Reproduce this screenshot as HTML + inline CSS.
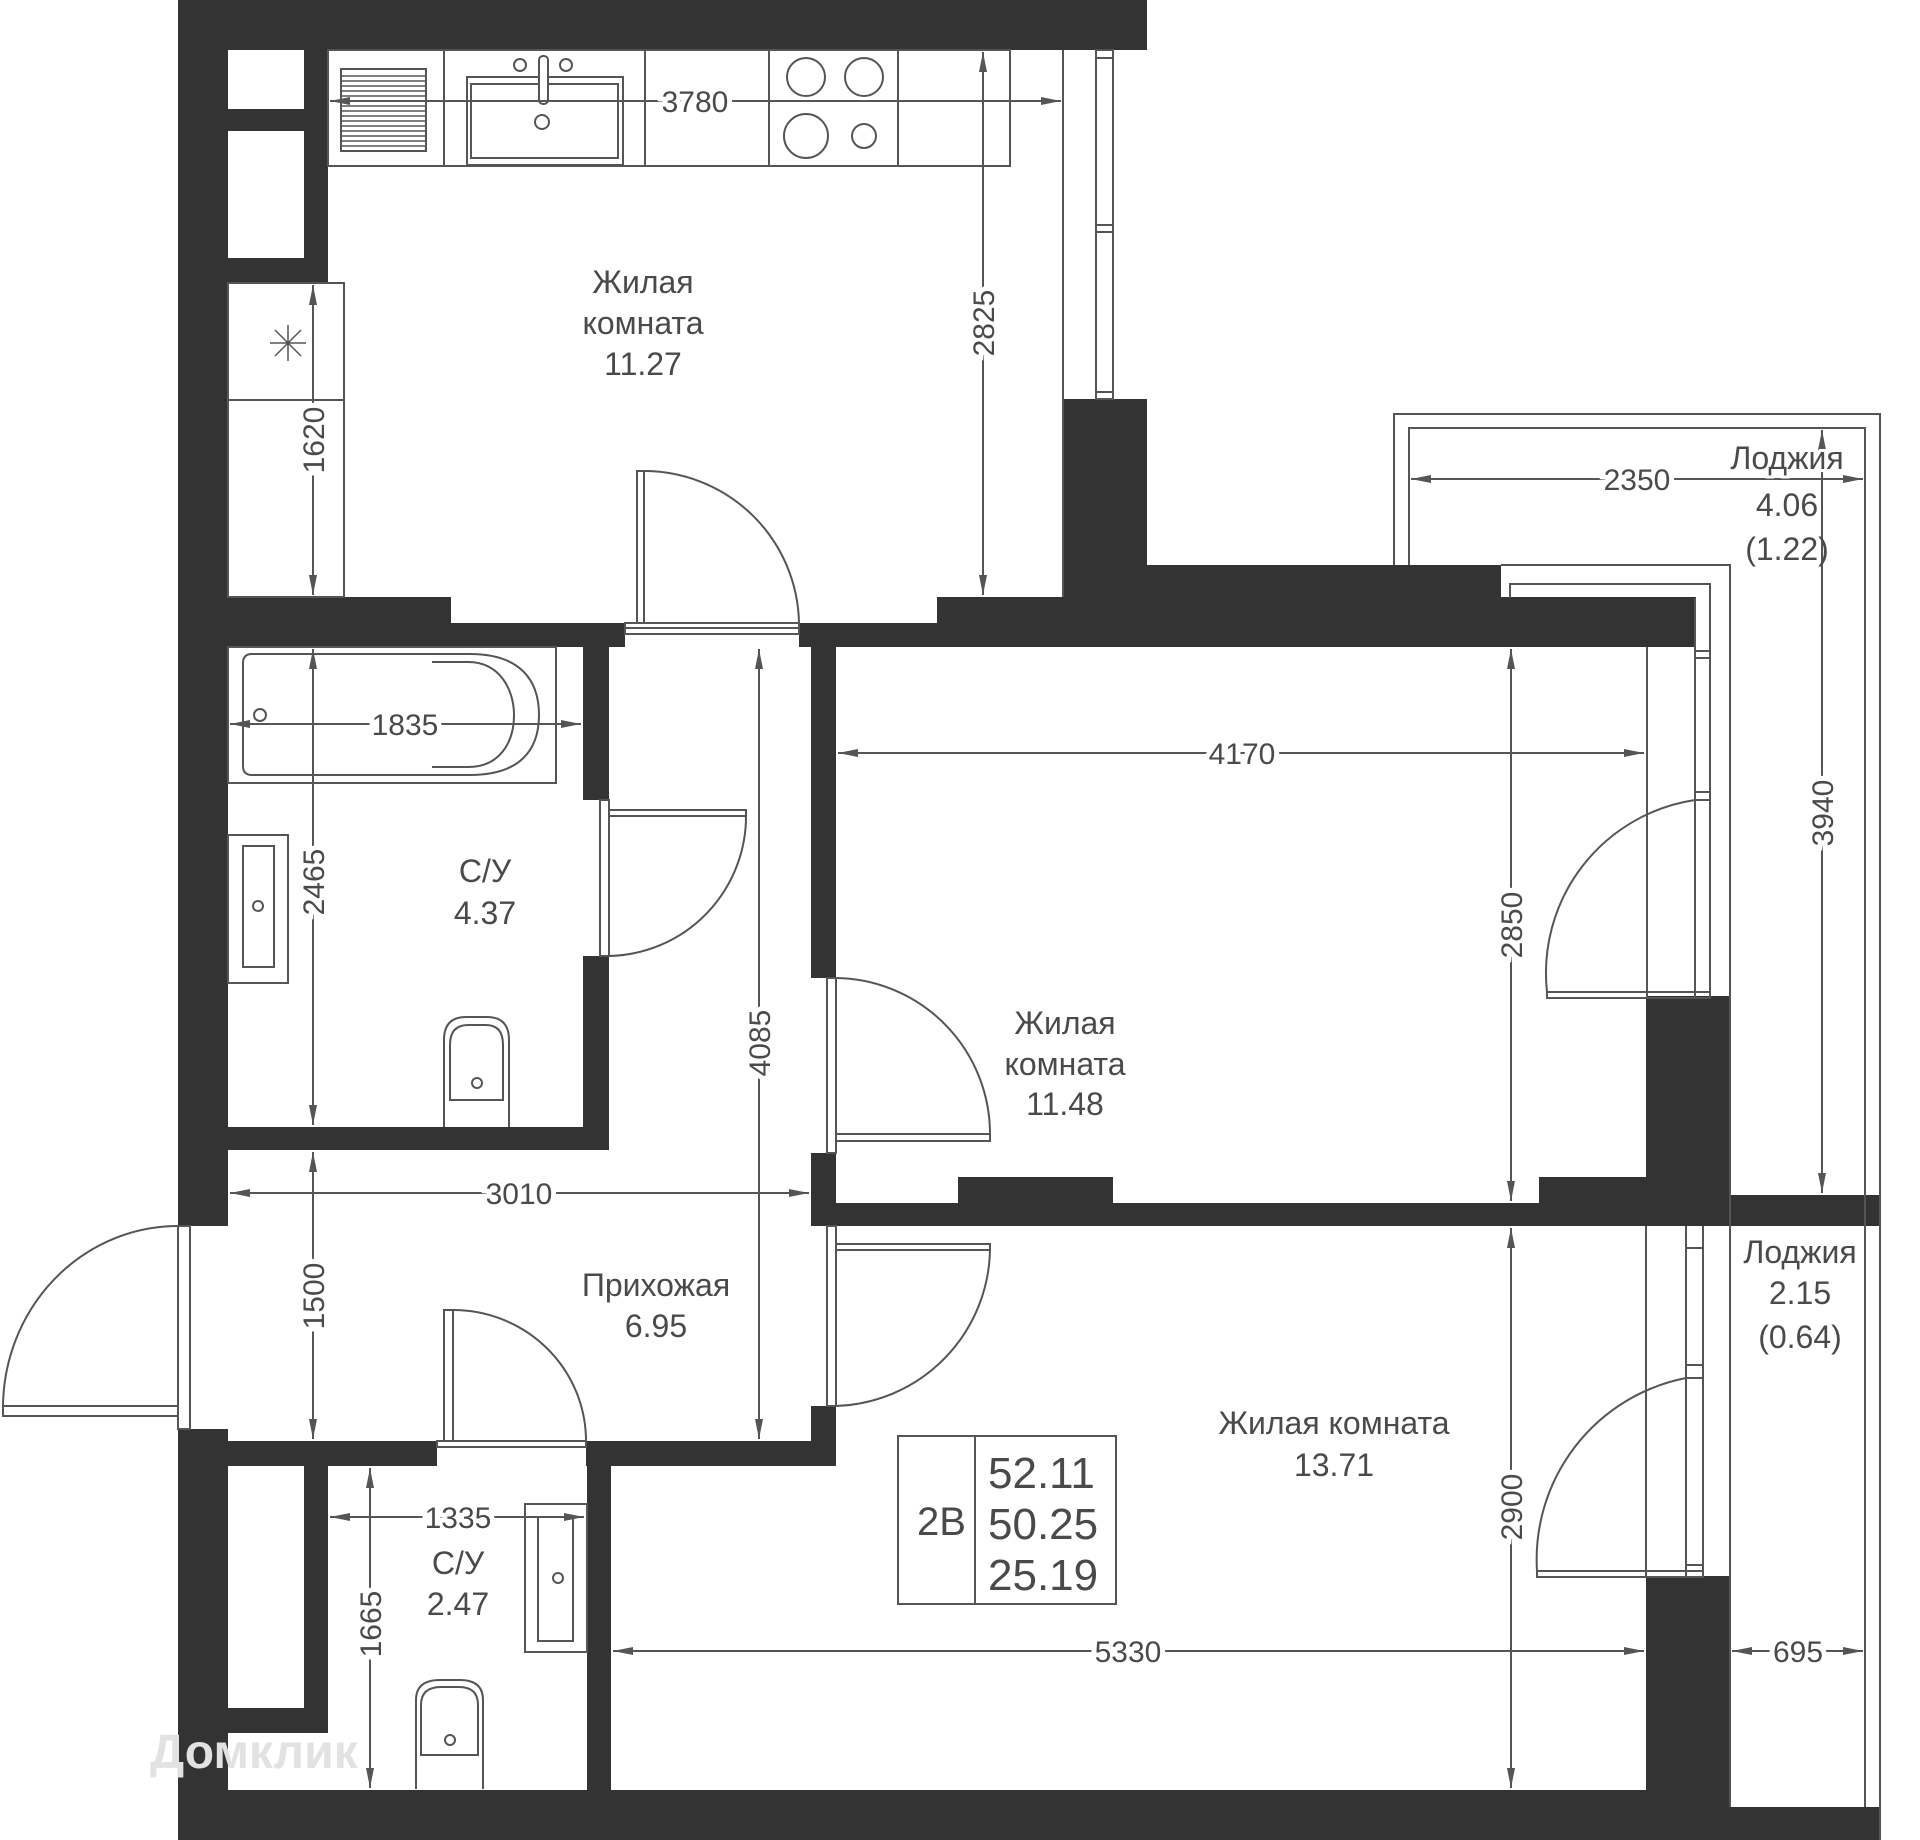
<!DOCTYPE html>
<html><head><meta charset="utf-8"><style>
html,body{margin:0;padding:0;background:#fff}
svg{display:block}
text{font-family:"Liberation Sans","DejaVu Sans",sans-serif;fill:#4a4a4a}
.l{font-size:32px;text-anchor:middle}
.d{font-size:30px;text-anchor:middle;paint-order:stroke;stroke:#fff;stroke-width:10px}
.w{fill:#333}
.ln{fill:none;stroke:#555;stroke-width:2}
.dm{stroke:#555;stroke-width:2;marker-start:url(#a);marker-end:url(#a)}
</style></head><body>
<svg width="1920" height="1840" viewBox="0 0 1920 1840" xmlns="http://www.w3.org/2000/svg">
<defs><marker id="a" viewBox="0 0 20 10" refX="20" refY="5" markerWidth="20" markerHeight="10" markerUnits="userSpaceOnUse" orient="auto-start-reverse"><path d="M0,1 L20,5 L0,9 z" fill="#555"/></marker></defs>

<g class="w">
<rect x="178" y="0" width="969" height="50"/>
<rect x="178" y="0" width="50" height="1226"/>
<rect x="178" y="1429" width="50" height="411"/>
<rect x="228" y="109" width="100" height="22"/>
<rect x="304" y="50" width="24" height="233"/>
<rect x="228" y="258" width="100" height="25"/>
<rect x="178" y="597" width="273" height="26"/>
<rect x="178" y="623" width="447" height="24"/>
<rect x="799" y="623" width="138" height="24"/>
<rect x="937" y="597" width="759" height="50"/>
<rect x="1063" y="399" width="84" height="198"/>
<rect x="1063" y="565" width="438" height="33"/>
<rect x="583" y="647" width="26" height="153"/>
<rect x="583" y="956" width="26" height="194"/>
<rect x="178" y="1127" width="431" height="23"/>
<rect x="811" y="647" width="25" height="331"/>
<rect x="811" y="1153" width="25" height="73"/>
<rect x="811" y="1406" width="25" height="60"/>
<rect x="811" y="1203" width="1069" height="23"/>
<rect x="958" y="1177" width="155" height="26"/>
<rect x="1539" y="1177" width="191" height="26"/>
<rect x="1646" y="996" width="84" height="207"/>
<rect x="1730" y="1195" width="150" height="31"/>
<rect x="178" y="1441" width="259" height="25"/>
<rect x="586" y="1441" width="250" height="25"/>
<rect x="587" y="1441" width="24" height="349"/>
<rect x="304" y="1466" width="24" height="267"/>
<rect x="228" y="1708" width="100" height="25"/>
<rect x="1646" y="1576" width="84" height="230"/>
<rect x="178" y="1790" width="1552" height="50"/>
<rect x="1730" y="1807" width="150" height="33"/>
</g>

<g class="ln">
<rect x="328" y="50" width="682" height="116"/>
<line x1="444" y1="50" x2="444" y2="166"/><line x1="645" y1="50" x2="645" y2="166"/>
<line x1="769" y1="50" x2="769" y2="166"/><line x1="898" y1="50" x2="898" y2="166"/>
<rect x="341" y="69" width="85" height="82"/>
<path d="M341,76 H426 M341,81 H426 M341,86 H426 M341,91 H426 M341,96 H426 M341,101 H426 M341,106 H426 M341,111 H426 M341,116 H426 M341,121 H426 M341,126 H426 M341,131 H426 M341,136 H426 M341,141 H426 M341,146 H426" stroke-width="1.5"/>
<rect x="467" y="77" width="156" height="88"/>
<rect x="471" y="84" width="147" height="74"/>
<circle cx="520" cy="65" r="6"/><circle cx="566" cy="65" r="6"/>
<rect x="539" y="56" width="9" height="48" rx="4" fill="#fff"/>
<circle cx="542" cy="122" r="7"/>
<circle cx="806" cy="77" r="19"/><circle cx="864" cy="77" r="19"/>
<circle cx="806" cy="136" r="22"/><circle cx="864" cy="136" r="12"/>
<rect x="228" y="283" width="116" height="314"/>
<line x1="228" y1="400" x2="344" y2="400"/>
<path d="M270,343 H306 M288,325 V361 M275,330 L301,356 M301,330 L275,356" stroke-width="1.5"/>
<line x1="1063" y1="50" x2="1063" y2="597"/>
<rect x="1096" y="50" width="17" height="349"/>
<line x1="1096" y1="225" x2="1113" y2="225"/><line x1="1096" y1="232" x2="1113" y2="232"/>
<line x1="1096" y1="58" x2="1113" y2="58"/><line x1="1096" y1="392" x2="1113" y2="392"/>
<rect x="637" y="471" width="7" height="152"/>
<path d="M644,471 A155,155 0 0 1 799,623"/>
<rect x="625" y="623" width="174" height="5"/><rect x="625" y="628" width="174" height="6"/>
<path d="M1394,565 V414 H1880 V1840"/>
<path d="M1409,565 V428 H1865 V1807"/>
<path d="M1501,565 H1730 V1807"/>
<path d="M1510,598 V584 H1710 V997"/>
<line x1="1695" y1="598" x2="1695" y2="997"/>
<line x1="1695" y1="651" x2="1710" y2="651"/><line x1="1695" y1="658" x2="1710" y2="658"/>
<line x1="1695" y1="792" x2="1710" y2="792"/><line x1="1695" y1="800" x2="1710" y2="800"/>
<line x1="1647" y1="647" x2="1647" y2="998"/>
<rect x="1547" y="992" width="163" height="6"/>
<path d="M1547,992 A175,175 0 0 1 1695,800"/>
<line x1="1646" y1="1226" x2="1646" y2="1576"/>
<line x1="1686" y1="1226" x2="1686" y2="1576"/><line x1="1703" y1="1226" x2="1703" y2="1576"/>
<line x1="1686" y1="1248" x2="1703" y2="1248"/><line x1="1686" y1="1365" x2="1703" y2="1365"/>
<line x1="1686" y1="1378" x2="1703" y2="1378"/><line x1="1686" y1="1565" x2="1703" y2="1565"/>
<rect x="1537" y="1571" width="166" height="6"/>
<path d="M1537,1571 A185,185 0 0 1 1686,1378"/>
<rect x="228" y="647" width="328" height="136"/>
<path d="M252,654 H470 C520,654 539,680 539,715 C539,750 520,775 470,775 H252 Q243,775 243,766 V663 Q243,654 252,654 Z"/>
<path d="M432,662 H468 C500,662 514,690 514,715 C514,742 500,767 468,767 H432"/>
<circle cx="260" cy="715" r="6"/>
<rect x="228" y="835" width="60" height="148"/>
<rect x="243" y="846" width="31" height="121"/>
<circle cx="258" cy="906" r="5"/>
<path d="M444,1127 V1040 Q444,1017 466,1017 H487 Q509,1017 509,1040 V1127"/>
<path d="M450,1100 V1045 Q450,1025 468,1025 H486 Q503,1025 503,1045 V1100 Z"/>
<circle cx="477" cy="1083" r="5"/>
<rect x="600" y="800" width="9" height="156"/>
<rect x="609" y="810" width="137" height="6"/>
<path d="M746,813 A140,140 0 0 1 609,956"/>
<rect x="827" y="978" width="9" height="175"/>
<rect x="836" y="1134" width="154" height="7"/>
<path d="M836,978 A156,156 0 0 1 990,1134"/>
<rect x="827" y="1226" width="9" height="180"/>
<rect x="836" y="1244" width="154" height="6"/>
<path d="M990,1247 A159,159 0 0 1 836,1406"/>
<rect x="178" y="1226" width="12" height="203"/>
<rect x="3" y="1406" width="175" height="10"/>
<path d="M3,1408 A175,182 0 0 1 178,1226"/>
<rect x="444" y="1310" width="9" height="131"/>
<path d="M453,1310 A133,131 0 0 1 586,1441"/>
<rect x="437" y="1441" width="149" height="6"/>
<rect x="525" y="1504" width="62" height="148"/>
<rect x="538" y="1517" width="35" height="124"/>
<circle cx="558" cy="1578" r="5"/>
<path d="M416,1789 V1700 Q416,1680 440,1680 H460 Q483,1680 483,1700 V1789"/>
<path d="M421,1755 V1705 Q421,1687 441,1687 H459 Q478,1687 478,1705 V1755 Z"/>
<circle cx="450" cy="1740" r="5"/>
<rect x="898" y="1436" width="218" height="168"/>
<line x1="975" y1="1436" x2="975" y2="1604"/>
</g>

<g>
<line class="dm" x1="330" y1="101" x2="1061" y2="101"/>
<line class="dm" x1="313" y1="285" x2="313" y2="595"/>
<line class="dm" x1="983" y1="52" x2="983" y2="595"/>
<line class="dm" x1="1411" y1="479" x2="1863" y2="479"/>
<line class="dm" x1="1822" y1="430" x2="1822" y2="1193"/>
<line class="dm" x1="230" y1="724" x2="581" y2="724"/>
<line class="dm" x1="313" y1="649" x2="313" y2="1125"/>
<line class="dm" x1="838" y1="753" x2="1644" y2="753"/>
<line class="dm" x1="1511" y1="649" x2="1511" y2="1201"/>
<line class="dm" x1="759" y1="649" x2="759" y2="1439"/>
<line class="dm" x1="230" y1="1193" x2="809" y2="1193"/>
<line class="dm" x1="313" y1="1152" x2="313" y2="1439"/>
<line class="dm" x1="330" y1="1517" x2="584" y2="1517"/>
<line class="dm" x1="370" y1="1468" x2="370" y2="1788"/>
<line class="dm" x1="613" y1="1651" x2="1644" y2="1651"/>
<line class="dm" x1="1511" y1="1228" x2="1511" y2="1788"/>
<line class="dm" x1="1732" y1="1651" x2="1863" y2="1651"/>
</g>
<g>
<text class="d" x="695" y="112">3780</text>
<text class="d" transform="translate(324,440) rotate(-90)">1620</text>
<text class="d" transform="translate(994,323) rotate(-90)">2825</text>
<text class="d" x="1637" y="490">2350</text>
<text class="d" transform="translate(1833,813) rotate(-90)">3940</text>
<text class="d" x="405" y="735">1835</text>
<text class="d" transform="translate(324,882) rotate(-90)">2465</text>
<text class="d" x="1242" y="764">4170</text>
<text class="d" transform="translate(1522,925) rotate(-90)">2850</text>
<text class="d" transform="translate(770,1043) rotate(-90)">4085</text>
<text class="d" x="519" y="1204">3010</text>
<text class="d" transform="translate(324,1296) rotate(-90)">1500</text>
<text class="d" x="458" y="1528">1335</text>
<text class="d" transform="translate(381,1624) rotate(-90)">1665</text>
<text class="d" x="1128" y="1662">5330</text>
<text class="d" transform="translate(1522,1507) rotate(-90)">2900</text>
<text class="d" x="1798" y="1662">695</text>
</g>

<g>
<text class="l" x="643" y="293">Жилая</text>
<text class="l" x="643" y="334">комната</text>
<text class="l" x="643" y="375">11.27</text>
<text class="l" x="1787" y="469" style="paint-order:stroke;stroke:#fff;stroke-width:6px">Лоджия</text>
<text class="l" x="1787" y="516">4.06</text>
<text class="l" x="1787" y="560">(1.22)</text>
<text class="l" x="485" y="882">С/У</text>
<text class="l" x="485" y="924">4.37</text>
<text class="l" x="1065" y="1034">Жилая</text>
<text class="l" x="1065" y="1075">комната</text>
<text class="l" x="1065" y="1115">11.48</text>
<text class="l" x="656" y="1296">Прихожая</text>
<text class="l" x="656" y="1337">6.95</text>
<text class="l" x="1800" y="1263">Лоджия</text>
<text class="l" x="1800" y="1304">2.15</text>
<text class="l" x="1800" y="1348">(0.64)</text>
<text class="l" x="1334" y="1434">Жилая комната</text>
<text class="l" x="1334" y="1476">13.71</text>
<text class="l" x="458" y="1574">С/У</text>
<text class="l" x="458" y="1615">2.47</text>
<text style="font-size:40px" x="917" y="1535">2B</text>
<text style="font-size:44px" x="988" y="1488">52.11</text>
<text style="font-size:44px" x="988" y="1539">50.25</text>
<text style="font-size:44px" x="988" y="1590">25.19</text>
<text x="150" y="1768" style="font-size:48px;fill:#e2e2e2;font-weight:bold">Домклик</text>
</g>
</svg>
</body></html>
